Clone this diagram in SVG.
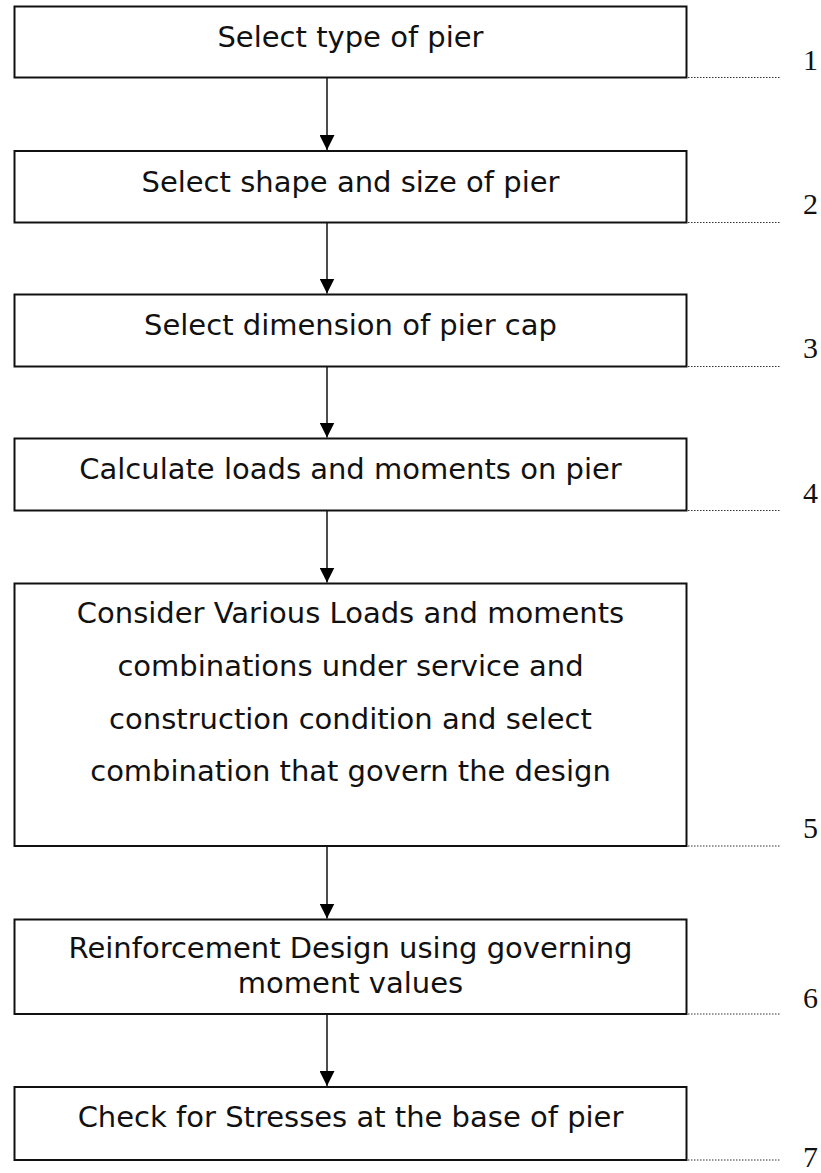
<svg xmlns="http://www.w3.org/2000/svg" width="821" height="1173" viewBox="0 0 821 1173">
<style>
.box{fill:#fff;stroke:#111;stroke-width:2}
.t{font-family:"DejaVu Sans","Verdana",sans-serif;font-size:29px;fill:#111;text-anchor:middle}
.n{font-family:"Liberation Serif","Times New Roman",serif;font-size:30px;fill:#111}
.dot{stroke:#333;stroke-width:1;stroke-dasharray:1.5,1.5;fill:none}
.c{stroke:#111;stroke-width:1.5;fill:none;marker-end:url(#ah)}
</style>
<defs>
<marker id="ah" markerWidth="15" markerHeight="15" refX="15" refY="7.5" orient="auto" markerUnits="userSpaceOnUse">
<path d="M0,0 L15,7.5 L0,15 Z" fill="#000"/>
</marker>
</defs>
<rect width="821" height="1173" fill="#fff"/>
<g id="connectors">
<line class="c" x1="327" y1="78" x2="327" y2="150"/>
<line class="c" x1="327" y1="223" x2="327" y2="293.5"/>
<line class="c" x1="327" y1="367" x2="327" y2="437.5"/>
<line class="c" x1="327" y1="511" x2="327" y2="582.5"/>
<line class="c" x1="327" y1="846.5" x2="327" y2="918.5"/>
<line class="c" x1="327" y1="1014.5" x2="327" y2="1086"/>
</g>
<g id="node1">
<rect class="box" x="14.5" y="6.5" width="672" height="71"/>
<text class="t" x="350.5" y="47">Select type of pier</text>
<line class="dot" x1="688" y1="77.5" x2="780" y2="77.5"/>
<text class="n" x="803" y="70">1</text>
</g>
<g id="node2">
<rect class="box" x="14.5" y="151" width="672" height="71.5"/>
<text class="t" x="350.5" y="192">Select shape and size of pier</text>
<line class="dot" x1="688" y1="222.5" x2="780" y2="222.5"/>
<text class="n" x="803" y="214">2</text>
</g>
<g id="node3">
<rect class="box" x="14.5" y="294.5" width="672" height="72"/>
<text class="t" x="350.5" y="335">Select dimension of pier cap</text>
<line class="dot" x1="688" y1="366.5" x2="780" y2="366.5"/>
<text class="n" x="803" y="358">3</text>
</g>
<g id="node4">
<rect class="box" x="14.5" y="438.5" width="672" height="72"/>
<text class="t" x="350.5" y="479">Calculate loads and moments on pier</text>
<line class="dot" x1="688" y1="510.5" x2="780" y2="510.5"/>
<text class="n" x="803" y="503">4</text>
</g>
<g id="node5">
<rect class="box" x="14.5" y="583.5" width="672" height="262.5"/>
<text class="t" x="350.5" y="623">Consider Various Loads and moments</text>
<text class="t" x="350.5" y="676">combinations under service and</text>
<text class="t" x="350.5" y="728.5">construction condition and select</text>
<text class="t" x="350.5" y="781">combination that govern the design</text>
<line class="dot" x1="688" y1="846" x2="780" y2="846"/>
<text class="n" x="803" y="838">5</text>
</g>
<g id="node6">
<rect class="box" x="14.5" y="919.5" width="672" height="94.5"/>
<text class="t" x="350.5" y="958">Reinforcement Design using governing</text>
<text class="t" x="350.5" y="993">moment values</text>
<line class="dot" x1="688" y1="1014" x2="780" y2="1014"/>
<text class="n" x="803" y="1008">6</text>
</g>
<g id="node7">
<rect class="box" x="14.5" y="1087" width="672" height="73"/>
<text class="t" x="350.5" y="1127">Check for Stresses at the base of pier</text>
<line class="dot" x1="688" y1="1160" x2="780" y2="1160"/>
<text class="n" x="803" y="1167">7</text>
</g>
</svg>
